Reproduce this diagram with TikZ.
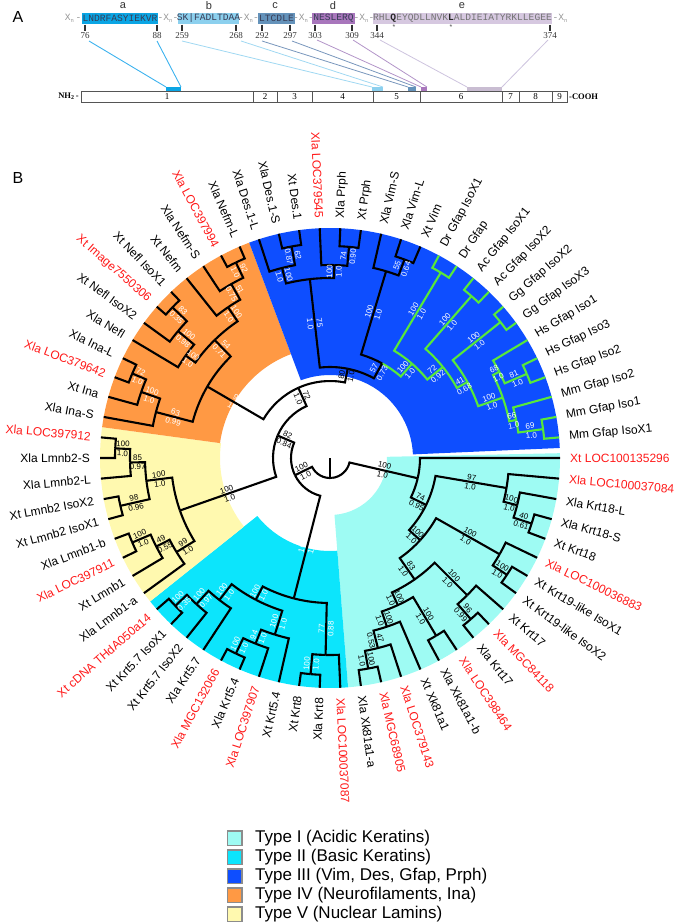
\documentclass[tikz,border=0pt]{standalone}
\usepackage{fontspec}
\setmainfont{Liberation Sans}
\newfontfamily\monof{Liberation Mono}
\newfontfamily\seriff{Liberation Serif}
\definecolor{tI}{RGB}{158,251,243}
\definecolor{tII}{RGB}{12,229,252}
\definecolor{tIII}{RGB}{14,78,255}
\definecolor{tIV}{RGB}{255,153,68}
\definecolor{tV}{RGB}{255,249,175}
\definecolor{gfapg}{RGB}{88,232,58}
\definecolor{lred}{RGB}{255,25,25}
\definecolor{xg}{RGB}{150,150,150}
\definecolor{seqa}{RGB}{10,165,228}
\definecolor{seqb}{RGB}{140,208,238}
\definecolor{seqc}{RGB}{100,146,186}
\definecolor{seqd}{RGB}{168,118,188}
\definecolor{seqe}{RGB}{214,200,224}
\definecolor{lna}{RGB}{60,178,238}
\definecolor{lnb}{RGB}{160,216,242}
\definecolor{lnc}{RGB}{120,150,188}
\definecolor{lnd}{RGB}{178,148,200}
\definecolor{lne}{RGB}{205,195,222}
\definecolor{seqtext}{RGB}{55,60,85}
\definecolor{barline}{RGB}{85,85,85}
\tikzset{
  branch/.style={line width=2.1pt, line join=miter},
  sup/.style={font=\fontsize{8}{9}\selectfont, inner sep=0.6pt, outer sep=1.3pt},
  leaflab/.style={font=\fontsize{12}{14}\selectfont, inner sep=0pt},
  seqtxt/.style={font=\monof\fontsize{9.6}{11}\selectfont, text=seqtext, inner sep=0pt},
  xntxt/.style={font=\monof\fontsize{9.6}{11}\selectfont, text=xg, inner sep=0pt},
  numtxt/.style={font=\seriff\fontsize{9}{10}\selectfont, text=black!80, inner sep=0pt},
  domtxt/.style={font=\seriff\fontsize{9}{10}\selectfont, inner sep=0pt},
  legbox/.style={draw=black!45, line width=1.1pt},
  legtxt/.style={font=\fontsize{17}{19}\selectfont, anchor=west, inner sep=0pt},
  tick/.style={line width=1.1pt, black!80}
}
% tree helpers
\newcommand\tleaf[3]{%
  \pgfmathsetmacro\tmpv{(#2/7)*36}%
  \expandafter\global\expandafter\let\csname tA#1\endcsname\tmpv
  \expandafter\gdef\csname tR#1\endcsname{230}%
  \expandafter\gdef\csname tC#1\endcsname{#3}%
  \expandafter\gdef\csname tB#1\endcsname{}%
}
\newcommand\tchild[2]{%
  \edef\pA{\csname tA#1\endcsname}%
  \edef\pR{\csname tR#1\endcsname}%
  \edef\cA{\csname tA#2\endcsname}%
  \edef\cR{\csname tR#2\endcsname}%
  \edef\cC{\csname tC#2\endcsname}%
  \draw[branch,draw=\cC] (\pA:\pR) arc[start angle=\pA,end angle=\cA,radius=\pR] -- (\cA:\cR);
  \edef\cB{\csname tB#2\endcsname}%
  \ifx\cB\empty\else
    \edef\cP{\csname tP#2\endcsname}%
    \edef\cL{\csname tL#2\endcsname}%
    \pgfmathsetmacro\mR{(\pR+\cR)/2}%
    \pgfmathsetmacro\nA{mod(\cA+720,360)}%
    \pgfmathsetmacro\rA{ifthenelse(and(\nA>90,\nA<270),\nA-180,\nA)}%
    \node[sup,text=\cL,rotate=\rA,anchor=south] at (\cA:\mR) {\cB};
    \node[sup,text=\cL,rotate=\rA,anchor=north] at (\cA:\mR) {\cP};
  \fi
}
\newcommand\tnode[8]{%
  \pgfmathsetmacro\tmpv{(\csname tA#3\endcsname+\csname tA#4\endcsname)/2}%
  \expandafter\global\expandafter\let\csname tA#1\endcsname\tmpv
  \expandafter\gdef\csname tR#1\endcsname{#2}%
  \expandafter\gdef\csname tC#1\endcsname{#5}%
  \expandafter\gdef\csname tL#1\endcsname{#6}%
  \expandafter\gdef\csname tB#1\endcsname{#7}%
  \expandafter\gdef\csname tP#1\endcsname{#8}%
  \tchild{#1}{#3}\tchild{#1}{#4}%
}
\newcommand\tlab[3]{%
  \pgfmathsetmacro\lA{(#1/7)*36}%
  \pgfmathsetmacro\lN{mod(\lA+720,360)}%
  \pgfmathtruncatemacro\lT{and(\lN>90,\lN<270)}%
  \ifnum\lT=1
    \pgfmathsetmacro\lR{\lN-180}%
    \node[leaflab,text=#3,rotate=\lR,anchor=east] (lab#1) at (\lA:240) {#2};
  \else
    \node[leaflab,text=#3,rotate=\lN,anchor=west] (lab#1) at (\lA:240) {#2};
  \fi
}
\newcommand\sector[4]{%
  \fill[#1] (#2:#4) arc[start angle=#2,end angle=#3,radius=#4] -- (#3:230)
    arc[start angle=#3,end angle=#2,radius=230] -- cycle;
}
\newcommand\xsub{X\raisebox{-1.6pt}{\fontsize{5.5}{6}\selectfont n}}
\begin{document}
\begin{tikzpicture}[x=1pt,y=1pt]
\useasboundingbox (0,0) rectangle (678,-924);
% ---------------- Panel A ----------------
\node[font=\fontsize{16}{18}\selectfont] (pA) at (18,-17) {A};
\node[font=\fontsize{16}{18}\selectfont] (pB) at (18,-178) {B};
\foreach \x/\l in {123/a,209/b,275/c,333/d,462/e}
  \node[font=\fontsize{11}{12}\selectfont, text=black!80] (let\l) at (\x,-5.5) {\l};
% boxes
\fill[seqa] (82,-13) rectangle (158,-23.5);
\fill[seqb] (178,-13) rectangle (239,-23.5);
\fill[seqc] (258,-13) rectangle (295,-23.5);
\fill[seqd] (312,-13) rectangle (355,-23.5);
\fill[seqe] (373,-13) rectangle (552,-23.5);
\node[seqtxt] (sa) at (120,-18.3) {LNDRFASYIEKVR};
\node[seqtxt] (sb) at (208.5,-18.3) {SK|FADLTDAA};
\node[seqtxt] (sc) at (276.5,-18.3) {LTCDLE};
\node[seqtxt] (sd) at (333.5,-18.3) {NESLERQ};
\node[seqtxt, text=black!55] (se) at (462.5,-18.3) {RHL\textbf{\color{black!85}Q}EYQDLLNVK\textbf{\color{black!85}L}ALDIEIATYRKLLEGEE};
\node[xntxt, anchor=east] (x0) at (81.5,-18.3) {\xsub\,-};
\node[xntxt] (x1) at (168,-18.3) {-\xsub-};
\node[xntxt] (x2) at (248.5,-18.3) {-\xsub-};
\node[xntxt] (x3) at (303.5,-18.3) {-\xsub-};
\node[xntxt] (x4) at (364,-18.3) {-\xsub-};
\node[xntxt, anchor=west] (x5) at (552.5,-18.3) {-\xsub};
\node[font=\fontsize{7}{7}\selectfont, text=black!70] (st1) at (394,-27) {*};
\node[font=\fontsize{7}{7}\selectfont, text=black!70] (st2) at (451,-27) {*};
% ticks and numbers
\foreach \x/\n in {85/76,157/88,182/259,236/268,262/292,290/297,315/303,352/309,377/344,550/374}{
  \draw[tick] (\x,-24.5) -- (\x,-30.5);
  \node[numtxt] (n\n) at (\x,-36) {\n};
}
% domain bar
\draw[barline, line width=0.9pt] (81,-91) rectangle (567,-102.5);
\foreach \x in {253,277,312,373,420,502,519,552} \draw[barline, line width=0.9pt] (\x,-91) -- (\x,-102.5);
\foreach \x/\n in {167/1,265/2,294.5/3,342.5/4,396.5/5,461/6,510.5/7,535.5/8,559.5/9}
  \node[domtxt] (d\n) at (\x,-97) {\n};
\node[font=\seriff\bfseries\fontsize{8.5}{9}\selectfont, anchor=east, inner sep=0pt] (nh) at (79,-96.5) {NH\textsubscript{2}\,-};
\node[font=\seriff\bfseries\fontsize{8.5}{9}\selectfont, anchor=west, inner sep=0pt] (cooh) at (569,-96.5) {-COOH};
% mapped bars
\fill[seqa] (166,-87) rectangle (181,-90.5);
\fill[seqb] (372,-87) rectangle (383,-90.5);
\fill[seqc] (408,-87) rectangle (416,-90.5);
\fill[seqd] (421,-87) rectangle (427,-90.5);
\fill[seqe!85!gray] (467,-87) rectangle (502,-90.5);
\draw[lna, line width=0.9pt] (89,-41) -- (166,-87);
\draw[lna, line width=0.9pt] (157,-41) -- (181,-87);
\draw[lnb, line width=0.8pt] (182,-41) -- (372,-87);
\draw[lnb, line width=0.8pt] (241,-41) -- (383,-87);
\draw[lnc, line width=0.8pt] (262,-41) -- (408,-87);
\draw[lnc, line width=0.8pt] (292,-41) -- (416,-87);
\draw[lnd, line width=0.8pt] (317,-40) -- (421,-87);
\draw[lnd, line width=0.8pt] (353,-40) -- (427,-87);
\draw[lne, line width=0.8pt] (380,-40) -- (467,-87);
\draw[lne, line width=0.8pt] (548,-40) -- (502,-87);
% ---------------- Panel B ----------------
\begin{scope}[shift={(330,-458)}]
\sector{tI}{274.5}{361.2}{57}
\sector{tII}{218.57}{274.5}{93}
\sector{tV}{172.29}{218.57}{110}
\sector{tIV}{110.57}{172.29}{111}
\sector{tIII}{2.5}{110.57}{83}
% leaves
\foreach \j in {1,...,12} {\tleaf{L\j}{\j}{gfapg}}
\foreach \j in {13,...,70} {\tleaf{L\j}{\j}{black}}
% Type I
\tnode{K18b}{212}{L67}{L66}{black}{black}{40}{0.61}
\tnode{K18}{193}{L68}{K18b}{black}{black}{100}{1.0}
\tnode{I97}{179}{L69}{K18}{black}{black}{97}{1.0}
\tnode{I4b}{212}{L64}{L63}{black}{black}{100}{1.0}
\tnode{I4}{195}{L65}{I4b}{black}{black}{100}{1.0}
\tnode{X}{214}{L61}{L60}{black}{black}{96}{0.99}
\tnode{I6}{194}{L62}{X}{black}{black}{100}{1.0}
\tnode{P}{207}{L59}{L58}{black}{black}{100}{1.0}
\tnode{Q2}{214}{L55}{L54}{black}{black}{100}{1.0}
\tnode{Q1}{196}{Q2}{L56}{black}{black}{47}{0.53}
\tnode{Q}{178}{Q1}{L57}{black}{black}{100}{1.0}
\tnode{N}{162}{P}{Q}{black}{black}{100}{1.0}
\tnode{M}{148}{I6}{N}{black}{black}{83}{1.0}
\tnode{I3}{122}{I4}{M}{black}{black}{100}{1.0}
\tnode{I2}{107}{I97}{I3}{black}{black}{74}{0.95}
\tnode{I}{90}{L70}{I2}{black}{black}{100}{1.0}
% Type II
\tnode{Tk2}{214}{L43}{L44}{black}{white}{100}{0.35}
\tnode{Tk3}{198}{Tk2}{L45}{black}{white}{100}{0.97}
\tnode{Tk4}{180}{Tk3}{L46}{black}{white}{100}{1.0}
\tnode{K5c}{217}{L47}{L48}{black}{white}{100}{1.0}
\tnode{K5b}{200}{K5c}{L49}{black}{white}{94}{1.0}
\tnode{K5a}{185}{K5b}{L50}{black}{white}{100}{1.0}
\tnode{K5}{160}{Tk4}{K5a}{black}{white}{100}{1.0}
\tnode{K8a}{217}{L51}{L52}{black}{white}{100}{1.0}
\tnode{K8}{197}{K8a}{L53}{black}{white}{77}{0.88}
\tnode{T2}{145}{K5}{K8}{black}{white}{100}{1.0}
% Type V
\tnode{Y1b}{215}{L34}{L35}{black}{black}{100}{1.0}
\tnode{Y1a}{200}{Y1b}{L36}{black}{black}{85}{0.97}
\tnode{Y1c}{215}{L37}{L38}{black}{black}{98}{0.96}
\tnode{Y1}{185}{Y1a}{Y1c}{black}{black}{100}{1.0}
\tnode{Y2b}{215}{L39}{L40}{black}{black}{100}{1.0}
\tnode{Y2a}{195}{Y2b}{L41}{black}{black}{49}{0.55}
\tnode{Y2}{180}{Y2a}{L42}{black}{black}{99}{1.0}
\tnode{Y}{159}{Y1}{Y2}{black}{black}{100}{1.0}
% Type IV
\tnode{Nefm3}{217}{L22}{L23}{black}{white}{92}{1.0}
\tnode{Nefm2}{200}{Nefm3}{L24}{black}{white}{51}{0.75}
\tnode{Nefm}{182}{Nefm2}{L25}{black}{white}{100}{1.0}
\tnode{Nefl3}{218}{L26}{L27}{black}{white}{83}{0.35}
\tnode{Nefl2}{198}{Nefl3}{L28}{black}{white}{100}{0.98}
\tnode{Nefl}{177}{Nefl2}{L29}{black}{white}{100}{1.0}
\tnode{Nef}{165}{Nefm}{Nefl}{black}{white}{54}{0.71}
\tnode{Ina3}{215}{L30}{L31}{black}{white}{72}{1.0}
\tnode{Ina2}{200}{Ina3}{L32}{black}{white}{100}{1.0}
\tnode{Ina}{180}{Ina2}{L33}{black}{white}{63}{0.99}
\tnode{O}{142}{Nef}{Ina}{black}{white}{99}{1.0}
% Type III
\tnode{MmA}{215}{L1}{L2}{gfapg}{white}{69}{1.0}
\tnode{Mm}{190}{MmA}{L3}{gfapg}{white}{66}{1.0}
\tnode{HsA}{214}{L4}{L5}{gfapg}{white}{81}{1.0}
\tnode{Hs}{190}{HsA}{L6}{gfapg}{white}{68}{1.0}
\tnode{Mam}{183}{Mm}{Hs}{gfapg}{white}{100}{1.0}
\tnode{Gg}{218}{L7}{L8}{gfapg}{white}{100}{1.0}
\tnode{GgM}{157}{Mam}{Gg}{gfapg}{white}{41}{0.68}
\tnode{Ac}{215}{L9}{L10}{gfapg}{white}{100}{1.0}
\tnode{AGM}{145}{GgM}{Ac}{gfapg}{white}{72}{0.92}
\tnode{Dr}{216}{L11}{L12}{gfapg}{white}{100}{1.0}
\tnode{Gfap}{125}{AGM}{Dr}{gfapg}{white}{100}{1.0}
\tnode{VimA}{212}{L13}{L14}{black}{white}{55}{0.64}
\tnode{Vim}{195}{VimA}{L15}{black}{white}{100}{1.0}
\tnode{C}{108}{Gfap}{Vim}{black}{white}{57}{0.73}
\tnode{Prph}{212}{L16}{L17}{black}{white}{74}{0.90}
\tnode{PrphL}{193}{Prph}{L18}{black}{white}{100}{1.0}
\tnode{DesA}{215}{L19}{L20}{black}{white}{62}{0.87}
\tnode{Des}{196}{DesA}{L21}{black}{white}{100}{1.0}
\tnode{DP}{180}{PrphL}{Des}{black}{white}{75}{1.0}
\tnode{B}{91}{C}{DP}{black}{black}{80}{1.0}
% centre
\tnode{E}{77}{B}{O}{black}{black}{72}{1.0}
\tnode{D}{57}{E}{Y}{black}{black}{82}{0.84}
\tnode{A}{39}{D}{T2}{black}{black}{100}{1.0}
\tnode{R}{20}{A}{I}{black}{black}{}{}
\coordinate (root) at (0,0);
\coordinate (rootarc) at (270:20);
\draw[branch] (root) -- (rootarc);
% leaf labels
\tlab{70}{Xt LOC100135296}{lred}
\tlab{1}{Mm Gfap IsoX1}{black}
\tlab{2}{Mm Gfap Iso1}{black}
\tlab{3}{Mm Gfap Iso2}{black}
\tlab{4}{Hs Gfap Iso2}{black}
\tlab{5}{Hs Gfap Iso3}{black}
\tlab{6}{Hs Gfap Iso1}{black}
\tlab{7}{Gg Gfap IsoX3}{black}
\tlab{8}{Gg Gfap IsoX2}{black}
\tlab{9}{Ac Gfap IsoX2}{black}
\tlab{10}{Ac Gfap IsoX1}{black}
\tlab{11}{Dr Gfap}{black}
\tlab{12}{Dr Gfap IsoX1}{black}
\tlab{13}{Xt Vim}{black}
\tlab{14}{Xla Vim-L}{black}
\tlab{15}{Xla Vim-S}{black}
\tlab{16}{Xt Prph}{black}
\tlab{17}{Xla Prph}{black}
\tlab{18}{Xla LOC379545}{lred}
\tlab{19}{Xt Des.1}{black}
\tlab{20}{Xla Des.1-S}{black}
\tlab{21}{Xla Des.1-L}{black}
\tlab{22}{Xla Nefm-L}{black}
\tlab{23}{Xla LOC397994}{lred}
\tlab{24}{Xla Nefm-S}{black}
\tlab{25}{Xt Nefm}{black}
\tlab{26}{Xt Nefl IsoX1}{black}
\tlab{27}{Xt Image7550306}{lred}
\tlab{28}{Xt Nefl IsoX2}{black}
\tlab{29}{Xla Nefl}{black}
\tlab{30}{Xla Ina-L}{black}
\tlab{31}{Xla LOC379642}{lred}
\tlab{32}{Xt Ina}{black}
\tlab{33}{Xla Ina-S}{black}
\tlab{34}{Xla LOC397912}{lred}
\tlab{35}{Xla Lmnb2-S}{black}
\tlab{36}{Xla Lmnb2-L}{black}
\tlab{37}{Xt Lmnb2 IsoX2}{black}
\tlab{38}{Xt Lmnb2 IsoX1}{black}
\tlab{39}{Xla Lmnb1-b}{black}
\tlab{40}{Xla LOC397911}{lred}
\tlab{41}{Xt Lmnb1}{black}
\tlab{42}{Xla Lmnb1-a}{black}
\tlab{43}{Xt cDNA THdA050a14}{lred}
\tlab{44}{Xt Krt5.7 IsoX1}{black}
\tlab{45}{Xt Krt5.7 IsoX2}{black}
\tlab{46}{Xla Krt5.7}{black}
\tlab{47}{Xla MGC132066}{lred}
\tlab{48}{Xla Krt5.4}{black}
\tlab{49}{Xla LOC397907}{lred}
\tlab{50}{Xt Krt5.4}{black}
\tlab{51}{Xt Krt8}{black}
\tlab{52}{Xla Krt8}{black}
\tlab{53}{Xla LOC100037087}{lred}
\tlab{54}{Xla Xk81a1-a}{black}
\tlab{55}{Xla MGC68905}{lred}
\tlab{56}{Xla LOC379143}{lred}
\tlab{57}{Xt Xk81a1}{black}
\tlab{58}{Xla Xk81a1-b}{black}
\tlab{59}{Xla LOC398464}{lred}
\tlab{60}{Xla Krt17}{black}
\tlab{61}{Xla MGC84118}{lred}
\tlab{62}{Xt Krt17}{black}
\tlab{63}{Xt Krt19-like IsoX2}{black}
\tlab{64}{Xt Krt19-like IsoX1}{black}
\tlab{65}{Xla LOC100036883}{lred}
\tlab{66}{Xt Krt18}{black}
\tlab{67}{Xla Krt18-S}{black}
\tlab{68}{Xla Krt18-L}{black}
\tlab{69}{Xla LOC100037084}{lred}
\end{scope}
% ---------------- Legend ----------------
\foreach \k/\c/\t in {0/tI/Type I (Acidic Keratins),1/tII/Type II (Basic Keratins),2/tIII/{Type III (Vim, Des, Gfap, Prph)},3/tIV/{Type IV (Neurofilaments, Ina)},4/tV/Type V (Nuclear Lamins)}{
  \pgfmathsetmacro\yy{-(831+19*\k)}
  \filldraw[legbox, fill=\c] (227.5,\yy) rectangle ++(14.5,-14.5);
  \node[legtxt] (leg\k) at (255,\yy-7.5) {\t};
}
\end{tikzpicture}
\end{document}
